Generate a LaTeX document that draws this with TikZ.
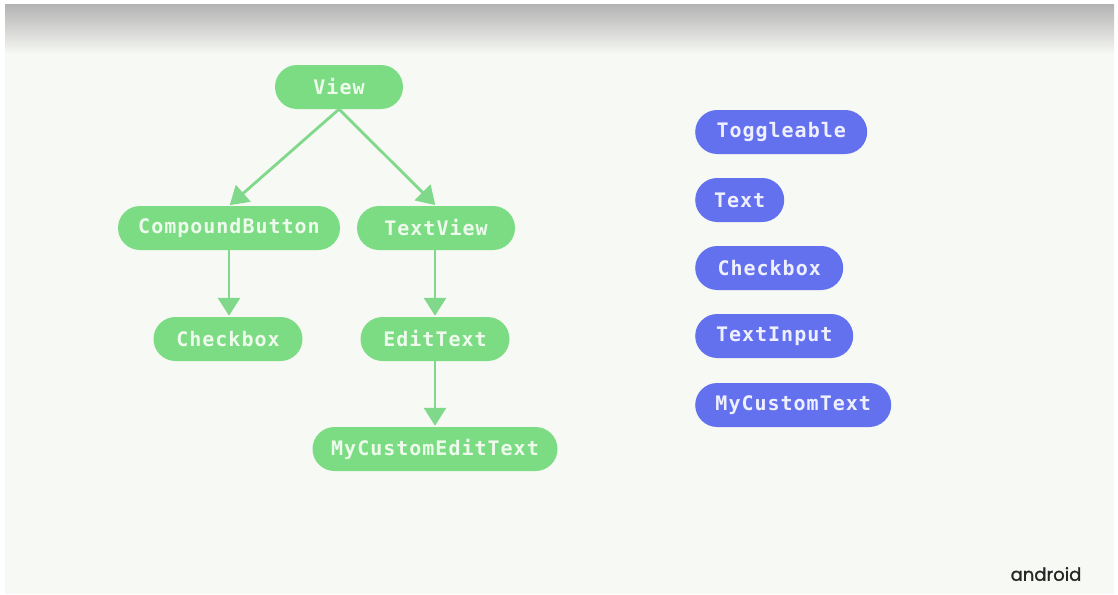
\documentclass[tikz,border=0pt]{standalone}
\usepackage{fontspec}
\usetikzlibrary{arrows.meta,shapes.misc}
\newfontfamily\codefont[LetterSpace=5]{DejaVu Sans Mono}
\newfontfamily\brandfont[FakeBold=1.2]{Poppins}
\definecolor{pagebg}{HTML}{F7F9F4}
\definecolor{topgray}{HTML}{B4B4B4}
\definecolor{leafgreen}{HTML}{7CDC84}
\definecolor{linegreen}{HTML}{80D98A}
\definecolor{greentext}{HTML}{EEFAEC}
\definecolor{composeblue}{HTML}{6471EE}
\definecolor{bluetext}{HTML}{EEF0FF}
\definecolor{brandgray}{HTML}{262626}
\tikzset{
  pill/.style={rounded rectangle, minimum height=44pt, inner xsep=0pt,
    font=\codefont\bfseries\fontsize{20}{22}\selectfont},
  viewpill/.style={pill, fill=leafgreen, text=greentext},
  composepill/.style={pill, fill=composeblue, text=bluetext},
  inherit/.style={draw=linegreen, line width=2.8pt,
    -{Triangle[length=18pt,width=22pt]}, shorten >=1pt}
}
\begin{document}
\begin{tikzpicture}[x=1pt,y=-1pt]
  \useasboundingbox (0,0) rectangle (1118,594);
  % page background with the shaded band along the top
  \fill[white] (0,0) rectangle (1118,594);
  \fill[pagebg] (5,5) rectangle (1114,594);
  \shade[top color=topgray, bottom color=pagebg] (5,5) rectangle (1114,54);

  % class hierarchy of the View system
  \node[viewpill, minimum width=128pt] (view) at (339,87) {View};
  \node[viewpill, minimum width=222pt] (compound) at (229,228) {CompoundButton};
  \node[viewpill, minimum width=158pt] (textview) at (436,228) {TextView};
  \node[viewpill, minimum width=149pt] (checkbox) at (228,339) {Checkbox};
  \node[viewpill, minimum width=149pt] (edittext) at (435,339) {EditText};
  \node[viewpill, minimum width=245pt] (customedit) at (435,449) {MyCustomEditText};

  \draw[inherit] (view.south) -- (compound.north);
  \draw[inherit] (view.south) -- (textview.north);
  \draw[inherit] (compound.south) -- (compound.south |- checkbox.north);
  \draw[inherit] (textview.south -| edittext.north) -- (edittext.north);
  \draw[inherit] (edittext.south) -- (customedit.north);

  % flat list of composables
  \node[composepill, minimum width=172pt, anchor=west] (toggleable) at (695,132) {Toggleable};
  \node[composepill, minimum width=89pt, anchor=west] (text) at (695,200) {Text};
  \node[composepill, minimum width=148pt, anchor=west] (composecheck) at (695,268) {Checkbox};
  \node[composepill, minimum width=158pt, anchor=west] (textinput) at (695,336) {TextInput};
  \node[composepill, minimum width=196pt, anchor=west] (customtext) at (695,405) {MyCustomText};

  \node[font=\brandfont\fontsize{18}{19}\selectfont, text=brandgray] (brand) at (1046,574) {android};
\end{tikzpicture}
\end{document}
